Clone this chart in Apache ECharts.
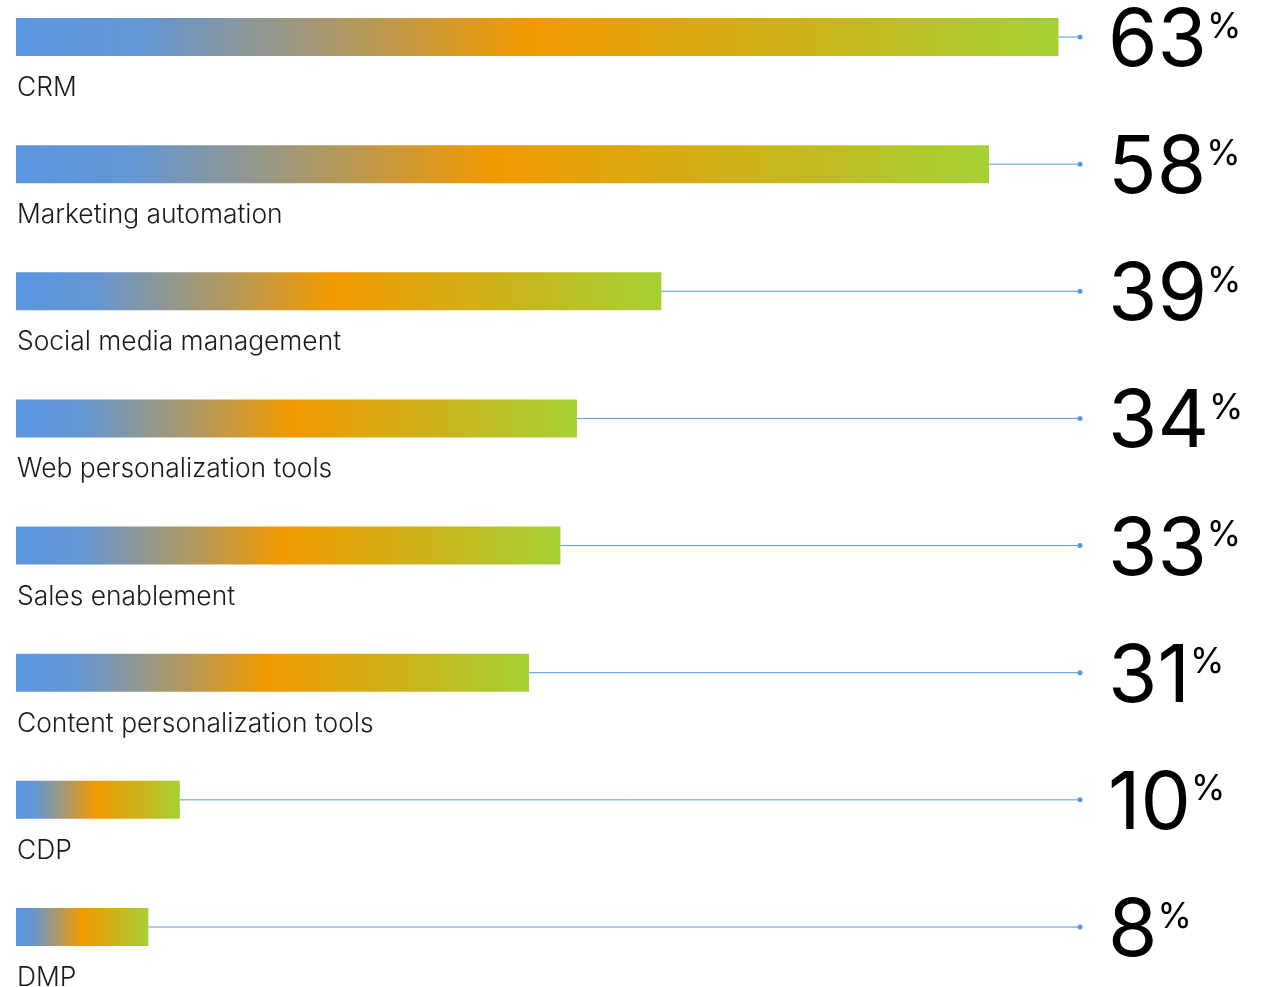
<!DOCTYPE html>
<html>
<head>
<meta charset="utf-8">
<script src="https://cdn.jsdelivr.net/npm/echarts@6/dist/echarts.min.js"></script>
<style>
html,body{margin:0;padding:0;background:#fff;}
#chart{width:1271px;height:987px;}
</style>
</head>
<body>
<div id="chart"></div>
<script>
var categories = ['CRM','Marketing automation','Social media management','Web personalization tools','Sales enablement','Content personalization tools','CDP','DMP'];
var values = [63, 58.8, 39, 33.9, 32.9, 31, 9.9, 8];
var valueLabels = ['63','58','39','34','33','31','10','8'];
var axisMax = 64.3;

var FONT = 'Inter, "Noto Sans", sans-serif';
var measureCtx = document.createElement('canvas').getContext('2d');
function textWidth(t, size){ measureCtx.font = size + 'px ' + FONT; return measureCtx.measureText(t).width; }

var chart = echarts.init(document.getElementById('chart'), null, {renderer:'canvas'});
var option = {
  animation:false,
  grid:{left:16, right:191, top:37, bottom:60, containLabel:false},
  xAxis:{type:'value', min:0, max:axisMax, show:false},
  yAxis:{type:'category', data:categories, inverse:true, boundaryGap:false, show:false},
  series:[
    {
      type:'bar',
      data:values,
      barWidth:38,
      itemStyle:{
        color:{type:'linear', x:0, y:0, x2:1, y2:0, colorStops:[
          {offset:0, color:'#5b96e0'},
          {offset:0.12, color:'#6396d4'},
          {offset:0.49, color:'#f29a00'},
          {offset:0.75, color:'#cdb21a'},
          {offset:1, color:'#a5d133'}
        ]}
      }
    },
    {
      type:'custom',
      data:values.map(function(v,i){return [v,i];}),
      renderItem:function(params, api){
        var i = params.dataIndex;
        var v = api.value(0);
        var s = api.coord([v, i]);
        var e = api.coord([axisMax, i]);
        var o = api.coord([0, i]);
        var cy = s[1];
        var lbl = valueLabels[i];
        var numX = e[0] + 28;
        var w = textWidth(lbl, 80);
        return {type:'group', children:[
          {type:'line', shape:{x1:s[0], y1:cy, x2:e[0], y2:cy}, style:{stroke:'#5b96e0', lineWidth:1}},
          {type:'circle', shape:{cx:e[0], cy:cy, r:2.5}, style:{fill:'#5b96e0'}},
          {type:'text', x:o[0]+1, y:cy+51, style:{text:categories[i], fill:'#1a1a1a', font:'300 26.4px ' + FONT, textAlign:'left', textVerticalAlign:'middle', align:'left', verticalAlign:'middle'}},
          {type:'text', x:numX, y:cy+5, style:{text:lbl, fill:'#000', font:'80px ' + FONT, textAlign:'left', textVerticalAlign:'middle', align:'left', verticalAlign:'middle'}},
          {type:'text', x:numX + w, y:cy-10, style:{text:'%', fill:'#000', font:'35px ' + FONT, textAlign:'left', textVerticalAlign:'middle', align:'left', verticalAlign:'middle'}}
        ]};
      }
    }
  ]
};
chart.setOption(option);
</script>
</body>
</html>
